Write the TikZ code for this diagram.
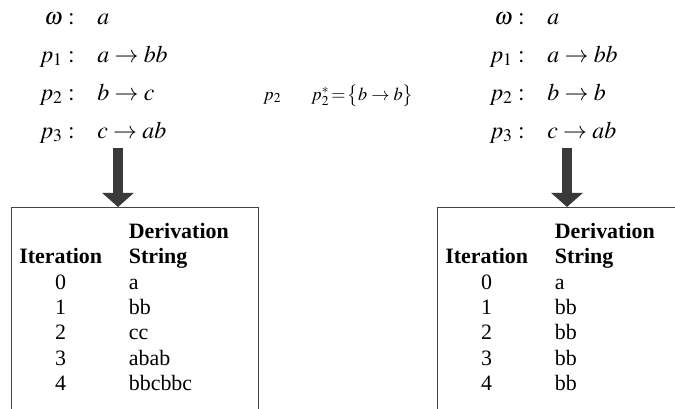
\documentclass[tikz,border=0pt]{standalone}
\usepackage{mathptmx}
\usepackage{fontspec}
\setmainfont{Liberation Serif}
\usetikzlibrary{arrows.meta,positioning,calc}
\definecolor{arrowfill}{HTML}{3A3A3A}
\definecolor{frameline}{HTML}{444444}

\begin{document}
\begin{tikzpicture}[x=0.025cm,y=-0.025cm,
  rule/.style={inner sep=0pt,font=\fontsize{17}{20}\selectfont},
  note/.style={inner sep=0pt,font=\fontsize{13}{15}\selectfont},
  tablebox/.style={draw=frameline,line width=0.8pt,minimum width=6.175cm,minimum height=6cm,anchor=north west,inner sep=0pt},
  table/.style={inner sep=0pt,anchor=north west,font=\fontsize{15.6}{18.1}\selectfont},
  fatarrow/.style={-{Triangle[length=10pt,width=22pt]},line width=6.5pt,draw=arrowfill}
]
\useasboundingbox (0,0) rectangle (675,408);
\clip (0,0) rectangle (675,408);
% left grammar
\node[rule,anchor=base east] (wL) at (75,24) {$\omega:$};
\node[rule,anchor=base west] (wLr) at (97,24) {$a$};
\node[rule,anchor=base east] (p1L) at (75,62) {$p_1:$};
\node[rule,anchor=base west] (p1Lr) at (97,62) {$a\rightarrow bb$};
\node[rule,anchor=base east] (p2L) at (75,100) {$p_2:$};
\node[rule,anchor=base west] (p2Lr) at (97,100) {$b\rightarrow c$};
\node[rule,anchor=base east] (p3L) at (75,138) {$p_3:$};
\node[rule,anchor=base west] (p3Lr) at (97,138) {$c\rightarrow ab$};
% right grammar
\node[rule,anchor=base east] (wR) at (525,24) {$\omega:$};
\node[rule,anchor=base west] (wRr) at (547,24) {$a$};
\node[rule,anchor=base east] (p1R) at (525,62) {$p_1:$};
\node[rule,anchor=base west] (p1Rr) at (547,62) {$a\rightarrow bb$};
\node[rule,anchor=base east] (p2R) at (525,100) {$p_2:$};
\node[rule,anchor=base west] (p2Rr) at (547,100) {$b\rightarrow b$};
\node[rule,anchor=base east] (p3R) at (525,138) {$p_3:$};
\node[rule,anchor=base west] (p3Rr) at (547,138) {$c\rightarrow ab$};
% replacement in the middle
\node[note,anchor=base west] (oldp) at (263,100) {$p_2$};
\node[note,anchor=base west] (newp) at (311,100) {$p_2^*\!=\!\bigl\{b\rightarrow b\bigr\}$};
% tables
\node[tablebox] (boxL) at (11,207) {};
\node[tablebox] (boxR) at (437,207) {};
\node[table] (tabL) at (19,220) {\begin{tabular}{@{}c@{\hspace{19pt}}l@{}}
  & \textbf{Derivation}\\
  \textbf{Iteration} & \textbf{String}\\
  0 & a\\ 1 & bb\\ 2 & cc\\ 3 & abab\\ 4 & bbcbbc
\end{tabular}};
\node[table] (tabR) at (445,220) {\begin{tabular}{@{}c@{\hspace{19pt}}l@{}}
  & \textbf{Derivation}\\
  \textbf{Iteration} & \textbf{String}\\
  0 & a\\ 1 & bb\\ 2 & bb\\ 3 & bb\\ 4 & bb
\end{tabular}};
% arrows
\coordinate (fromL) at (118,148);
\coordinate (fromR) at (567,148);
\draw[fatarrow] (fromL) -- (fromL |- boxL.north);
\draw[fatarrow] (fromR) -- (fromR |- boxR.north);
\end{tikzpicture}
\end{document}
